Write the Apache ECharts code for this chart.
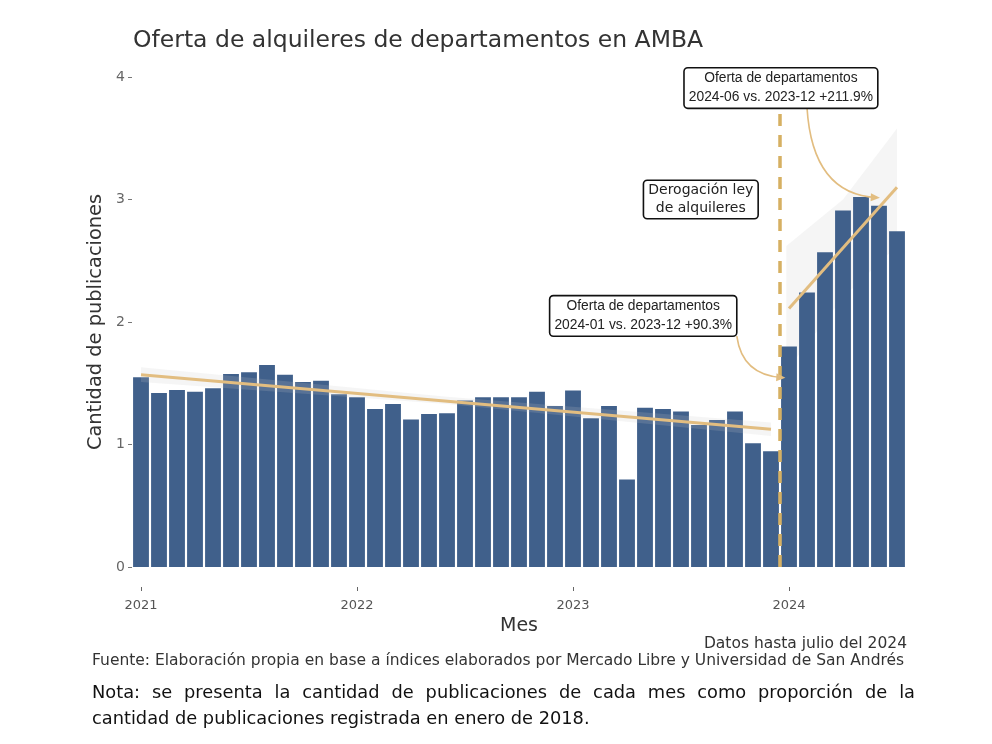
<!DOCTYPE html>
<html>
<head>
<meta charset="utf-8">
<script src="https://cdn.jsdelivr.net/npm/echarts@6/dist/echarts.min.js"></script>
<style>
  body { margin: 0; background: #fff; }
  #main { width: 992px; height: 744px; }
</style>
</head>
<body>
<div id="main"></div>
<script>
const months = [
	"2021-01","2021-02","2021-03","2021-04","2021-05","2021-06","2021-07","2021-08","2021-09","2021-10","2021-11","2021-12",
	"2022-01","2022-02","2022-03","2022-04","2022-05","2022-06","2022-07","2022-08","2022-09","2022-10","2022-11","2022-12",
	"2023-01","2023-02","2023-03","2023-04","2023-05","2023-06","2023-07","2023-08","2023-09","2023-10","2023-11","2023-12",
	"2024-01","2024-02","2024-03","2024-04","2024-05","2024-06","2024-07",
];
const publications = [
	1.55, 1.42, 1.445, 1.43, 1.46, 1.575, 1.59, 1.65, 1.57, 1.51, 1.52, 1.41,
	1.385, 1.29, 1.33, 1.205, 1.25, 1.255, 1.36, 1.385, 1.385, 1.385, 1.43, 1.315,
	1.44, 1.215, 1.315, 0.715, 1.30, 1.29, 1.27, 1.16, 1.20, 1.27, 1.01, 0.945,
	1.80, 2.24, 2.57, 2.91, 3.02, 2.95, 2.74,
];
// trend lines: [month index, value]
const trendBefore = [[0, 1.57], [35, 1.125]];
const trendAfter = [[36, 2.11], [42, 3.10]];
// confidence bands: [month index, lower, upper]
const bandBefore = [[0, 1.51, 1.63], [17, 1.33, 1.39], [35, 1.07, 1.18]];
const bandAfter = [[35.85, 1.60, 2.62], [39, 2.20, 3.00], [42, 2.62, 3.58]];
// annotation arrows: [x0, y0, control x, control y, x1, y1] in month index / value
const arrows = [
	[37.0, 3.75, 37.3, 3.04, 41.05, 3.015],
	[33.1, 1.885, 33.4, 1.565, 35.8, 1.545],
];
const yTicks = [0, 1, 2, 3, 4];

const textColor = "#333333";
const gold = "#e2bd80";
const font = "DejaVu Sans";

function bandSeries(band, z) {
	return {
		type: "custom",
		xAxisIndex: 1,
		data: band,
		encode: { x: 0, y: [1, 2] },
		silent: true,
		z: z,
		renderItem: (params, api) => {
			if (params.dataIndex !== 0) return null;
			const upper = band.map((b) => api.coord([b[0], b[2]]));
			const lower = band.map((b) => api.coord([b[0], b[1]])).reverse();
			return {
				type: "polygon",
				shape: { points: upper.concat(lower) },
				style: { fill: "rgba(200,200,200,0.18)" },
			};
		},
	};
}

function arrowSeries() {
	return {
		type: "custom",
		xAxisIndex: 1,
		data: arrows,
		encode: { x: [0, 2, 4], y: [1, 3, 5] },
		silent: true,
		z: 5,
		renderItem: (params, api) => {
			const p0 = api.coord([api.value(0), api.value(1)]);
			const c = api.coord([api.value(2), api.value(3)]);
			const p1 = api.coord([api.value(4), api.value(5)]);
			const ang = Math.atan2(p1[1] - c[1], p1[0] - c[0]);
			const len = 10, wing = 0.42;
			const head = [
				p1,
				[p1[0] - len * Math.cos(ang - wing), p1[1] - len * Math.sin(ang - wing)],
				[p1[0] - len * Math.cos(ang + wing), p1[1] - len * Math.sin(ang + wing)],
			];
			return {
				type: "group",
				children: [
					{
						type: "bezierCurve",
						shape: { x1: p0[0], y1: p0[1], cpx1: c[0], cpy1: c[1], x2: p1[0] - 3 * Math.cos(ang), y2: p1[1] - 3 * Math.sin(ang) },
						style: { stroke: gold, lineWidth: 1.6, fill: null },
					},
					{ type: "polygon", shape: { points: head }, style: { fill: gold } },
				],
			};
		},
	};
}

const boxLabel = {
	show: true,
	position: "inside",
	color: "#222",
	fontFamily: "Liberation Sans",
	fontSize: 13.8,
	lineHeight: 19,
	backgroundColor: "#fff",
	borderColor: "#111",
	borderWidth: 1.6,
	borderRadius: 3,
	padding: [1, 4, 0, 4],
	align: "center",
};

// justified note line, word by word
function justifiedLine(text, left, top, width, fontSpec) {
	const ctx = document.createElement("canvas").getContext("2d");
	ctx.font = fontSpec;
	const words = text.split(" ");
	const widths = words.map((w) => ctx.measureText(w).width);
	const total = widths.reduce((a, b) => a + b, 0);
	const gap = (width - total) / (words.length - 1);
	let x = left;
	return words.map((w, i) => {
		const el = { type: "text", left: x, top: top, style: { text: w, font: fontSpec, fill: "#111" } };
		x += widths[i] + gap;
		return el;
	});
}

let myChart = echarts.init(document.getElementById("main"));

const noteFont = "17.8px 'DejaVu Sans'";
const footFont = "15.5px 'DejaVu Sans'";

let options = {
	backgroundColor: "#fff",
	animation: false,
	title: {
		text: "Oferta de alquileres de departamentos en AMBA",
		left: 128,
		top: 24,
		textStyle: { fontFamily: font, fontWeight: "normal", fontSize: 23.5, color: textColor },
	},
	grid: { left: 132, right: 86, top: 77, bottom: 177 },
	xAxis: [
		{
			type: "category",
			data: months,
			offset: 20,
			axisLine: { show: false, onZero: false },
			axisTick: {
				show: true,
				alignWithLabel: true,
				length: 4,
				interval: (i, v) => v.endsWith("-01"),
				lineStyle: { color: "#666" },
			},
			axisLabel: {
				interval: (i, v) => v.endsWith("-01"),
				formatter: (v) => v.slice(0, 4),
				margin: 12,
				color: "#555",
				fontFamily: font,
				fontSize: 13,
			},
			name: "Mes",
			nameLocation: "middle",
			nameGap: 30,
			nameTextStyle: { fontFamily: font, fontSize: 19, color: textColor },
		},
		{
			type: "value",
			min: -0.5,
			max: 42.5,
			show: false,
		},
	],
	yAxis: {
		type: "value",
		min: yTicks[0],
		max: yTicks[yTicks.length - 1],
		interval: 1,
		splitLine: { show: false },
		axisLine: { show: false, onZero: false },
		axisTick: { show: true, length: 4, lineStyle: { color: "#777" } },
		axisLabel: { margin: 7, color: "#666", fontFamily: font, fontSize: 14 },
		name: "Cantidad de publicaciones",
		nameLocation: "middle",
		nameGap: 17,
		nameTextStyle: { fontFamily: font, fontSize: 19.4, color: textColor },
	},
	series: [
		{
			name: "Publicaciones",
			type: "bar",
			data: publications,
			barCategoryGap: "12%",
			itemStyle: { color: "#40608b" },
			z: 2,
		},
		bandSeries(bandBefore, 3),
		bandSeries(bandAfter, 1),
		{
			name: "Tendencia antes",
			type: "line",
			xAxisIndex: 1,
			data: trendBefore,
			symbol: "none",
			lineStyle: { color: gold, width: 3 },
			z: 4,
			markLine: {
				silent: true,
				symbol: "none",
				label: { show: false },
				lineStyle: { color: "#d6b062", width: 3.5, type: [12, 9] },
				data: [{ xAxis: 35.5 }],
			},
		},
		{
			name: "Tendencia despues",
			type: "line",
			xAxisIndex: 1,
			data: trendAfter,
			symbol: "none",
			lineStyle: { color: gold, width: 3 },
			z: 4,
			markPoint: {
				silent: true,
				symbol: "rect",
				symbolSize: 1,
				itemStyle: { color: "rgba(0,0,0,0)" },
				label: boxLabel,
				data: [
					{ coord: [35.55, 3.91], label: { formatter: "Oferta de departamentos\n2024-06 vs. 2023-12 +211.9%" } },
					{ coord: [31.1, 3.0], label: { formatter: "Derogación ley\nde alquileres", fontFamily: font, fontSize: 14, lineHeight: 18 } },
					{ coord: [27.9, 2.05], label: { formatter: "Oferta de departamentos\n2024-01 vs. 2023-12 +90.3%" } },
				],
			},
		},
		arrowSeries(),
	],
	graphic: [
		{
			type: "text",
			right: 85,
			top: 636,
			style: { text: "Datos hasta julio del 2024", font: footFont, fill: textColor, textAlign: "right" },
		},
		{
			type: "text",
			left: 92,
			top: 653,
			style: { text: "Fuente: Elaboración propia en base a índices elaborados por Mercado Libre y Universidad de San Andrés", font: footFont, fill: textColor },
		},
		...justifiedLine("Nota: se presenta la cantidad de publicaciones de cada mes como proporción de la", 92, 684, 823, noteFont),
		{
			type: "text",
			left: 92,
			top: 710,
			style: { text: "cantidad de publicaciones registrada en enero de 2018.", font: noteFont, fill: "#111" },
		},
	],
};

myChart.setOption(options);
</script>
</body>
</html>
